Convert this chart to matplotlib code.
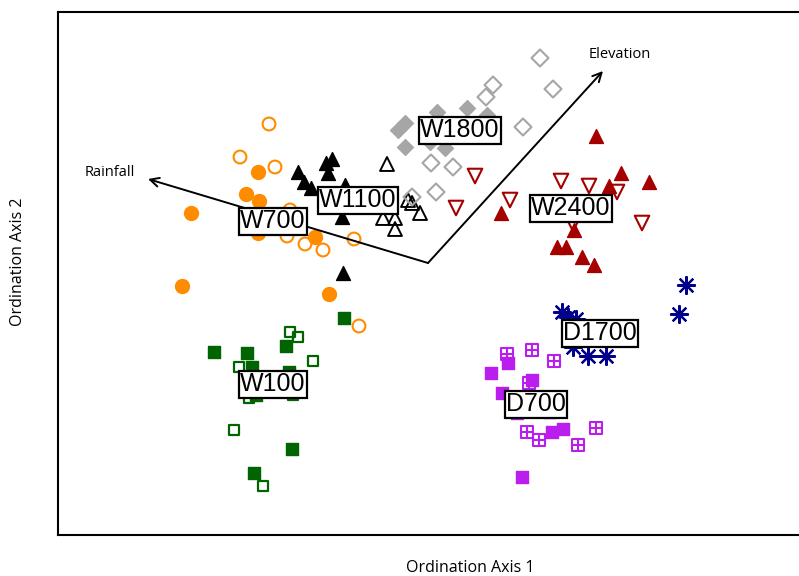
import matplotlib
matplotlib.use("Agg")
import matplotlib.pyplot as plt

# ordination scores (plot units, y grows downward)
W100_FILLED_X = [344, 214, 247, 286, 252, 289, 256, 292, 254]
W100_FILLED_Y = [318, 352, 353, 346, 367, 372, 395, 449, 473]
W100_OPEN_X = [290, 298, 313, 239, 249, 293, 234, 263]
W100_OPEN_Y = [332, 337, 361, 367, 398, 395, 430, 486]

W700_FILLED_X = [258, 246, 259, 191, 258, 315, 182, 329]
W700_FILLED_Y = [172, 194, 201, 213, 233, 237, 286, 294]
W700_OPEN_X = [269, 240, 275, 287, 305, 323, 354, 359, 290]
W700_OPEN_Y = [124, 157, 167, 236, 244, 250, 239, 326, 210]

W1100_FILLED_X = [332, 326, 328, 298, 304, 311, 345, 342, 343]
W1100_FILLED_Y = [159, 163, 173, 172, 182, 188, 185, 217, 273]
W1100_OPEN_X = [387, 408, 412, 420, 383, 395, 395]
W1100_OPEN_Y = [164, 200, 203, 213, 218, 218, 229]

W1800_FILLED_X = [405, 398, 405, 437, 430, 445, 467, 487]
W1800_FILLED_Y = [123, 130, 147, 112, 142, 148, 108, 115]
W1800_OPEN_X = [540, 493, 486, 553, 523, 431, 453, 436, 412]
W1800_OPEN_Y = [58, 85, 97, 89, 127, 163, 167, 192, 197]

W2400_FILLED_X = [596, 621, 649, 609, 501, 574, 557, 566, 582, 594]
W2400_FILLED_Y = [136, 173, 182, 186, 213, 230, 247, 247, 257, 265]
W2400_OPEN_X = [456, 475, 510, 561, 589, 617, 642, 573]
W2400_OPEN_Y = [208, 176, 200, 181, 186, 192, 223, 224]

D1700_X = [686, 679, 562, 568, 576, 573, 588, 606]
D1700_Y = [285, 314, 312, 317, 319, 347, 356, 356]

D700_FILLED_X = [491, 508, 532, 502, 517, 552, 563, 522, 550]
D700_FILLED_Y = [373, 363, 380, 393, 413, 432, 429, 477, 412]
D700_OPEN_X = [507, 532, 554, 527, 539, 578, 596, 529]
D700_OPEN_Y = [354, 350, 361, 432, 440, 445, 428, 383]

# environmental vectors
ARROW_ORIGIN = (428, 263)
VECTOR_NAMES = ["Rainfall", "Elevation"]
VECTOR_TIPS = [(148, 179), (603, 71)]
VECTOR_LABEL_POS = [(110, 172), (620, 54)]

# group centroid labels
GROUP_NAMES = ["W700", "W1100", "W1800", "W2400", "D1700", "D700", "W100"]
GROUP_X = [273, 358, 460, 571, 600, 536, 273]
GROUP_Y = [221, 200, 130, 208, 333, 404, 384]

ORANGE = "#FF8C00"
GRAY = "#A6A6A6"
DARKRED = "#A50000"
NAVY = "#00008B"
PURPLE = "#B91EEE"
GREEN = "#006400"

fig = plt.figure(figsize=(7.99, 5.76), dpi=100)
ax = fig.add_axes([58 / 799, 41 / 576, (830 - 58) / 799, 523 / 576])
ax.set_xlim(58, 830)
ax.set_ylim(535, 12)
ax.set_xticks([])
ax.set_yticks([])
for sp in ax.spines.values():
    sp.set_linewidth(1.5)

# W100 - green squares
ax.scatter(W100_FILLED_X, W100_FILLED_Y, marker="s", s=70, color=GREEN, zorder=3)
ax.scatter(W100_OPEN_X, W100_OPEN_Y, marker="s", s=60, facecolor="none",
           edgecolor=GREEN, linewidth=1.6, zorder=3)
# W700 - orange circles
ax.scatter(W700_FILLED_X, W700_FILLED_Y, marker="o", s=100, color=ORANGE, zorder=3)
ax.scatter(W700_OPEN_X, W700_OPEN_Y, marker="o", s=85, facecolor="none",
           edgecolor=ORANGE, linewidth=1.5, zorder=3)
# W1100 - black triangles
ax.scatter(W1100_FILLED_X, W1100_FILLED_Y, marker="^", s=100, color="black", zorder=3)
ax.scatter(W1100_OPEN_X, W1100_OPEN_Y, marker="^", s=100, facecolor="none",
           edgecolor="black", linewidth=1.4, zorder=3)
# W1800 - gray diamonds
ax.scatter(W1800_FILLED_X, W1800_FILLED_Y, marker="D", s=65, color=GRAY, zorder=3)
ax.scatter(W1800_OPEN_X, W1800_OPEN_Y, marker="D", s=75, facecolor="none",
           edgecolor=GRAY, linewidth=1.5, zorder=3)
# W2400 - dark red triangles
ax.scatter(W2400_FILLED_X, W2400_FILLED_Y, marker="^", s=100, color=DARKRED, zorder=3)
ax.scatter(W2400_OPEN_X, W2400_OPEN_Y, marker="v", s=110, facecolor="none",
           edgecolor=DARKRED, linewidth=1.5, zorder=3)
# D1700 - navy asterisks
ax.scatter(D1700_X, D1700_Y, marker=(8, 2, 0), s=150, color=NAVY,
           linewidth=1.6, zorder=3)
# D700 - purple squares
ax.scatter(D700_FILLED_X, D700_FILLED_Y, marker="s", s=75, color=PURPLE, zorder=3)
ax.scatter(D700_OPEN_X, D700_OPEN_Y, marker="s", s=70, facecolor="none",
           edgecolor=PURPLE, linewidth=1.5, zorder=3)
ax.scatter(D700_OPEN_X, D700_OPEN_Y, marker="+", s=70, color=PURPLE,
           linewidth=1.5, zorder=3)

# vectors
for name, tip, lab in zip(VECTOR_NAMES, VECTOR_TIPS, VECTOR_LABEL_POS):
    ax.annotate("", xy=tip, xytext=ARROW_ORIGIN, zorder=4,
                arrowprops=dict(arrowstyle="->", color="black", lw=1.4,
                                mutation_scale=16, shrinkA=0, shrinkB=0))
    ax.text(lab[0], lab[1], name, fontsize=10.5, family="Open Sans",
            ha="center", va="center", zorder=5)

for name, x, y in zip(GROUP_NAMES, GROUP_X, GROUP_Y):
    ax.text(x, y, name, fontsize=18, family="Liberation Sans",
            ha="center", va="center", zorder=6,
            bbox=dict(boxstyle="square,pad=0.06", fc="white", ec="black", lw=1.6))

fig.text(470 / 799, 1 - 568 / 576, "Ordination Axis 1", fontsize=11.5,
         family="Open Sans", ha="center", va="center")
fig.text(18 / 799, 1 - 262 / 576, "Ordination Axis 2", fontsize=11.5,
         family="Open Sans", ha="center", va="center", rotation=90)

fig.savefig("out.png", dpi=100)
